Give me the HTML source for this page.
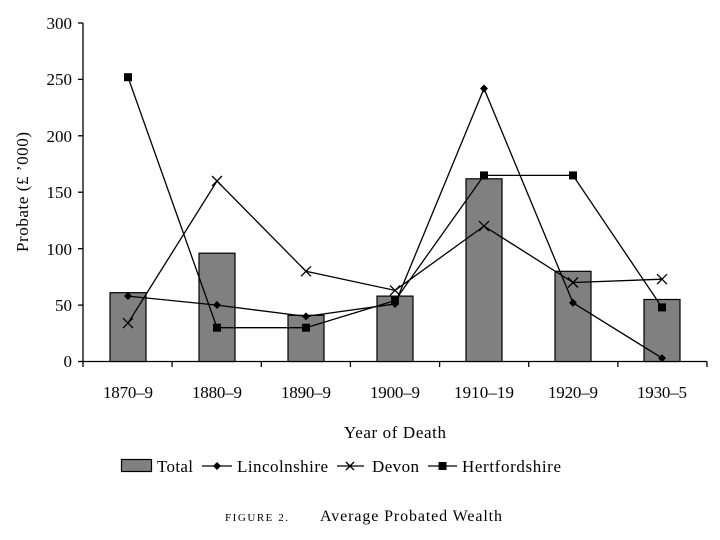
<!DOCTYPE html>
<html><head><meta charset="utf-8"><style>
html,body{margin:0;padding:0;background:#fff;}
svg{display:block;font-family:"Liberation Serif",serif;}
</style></head><body>
<svg width="720" height="540" viewBox="0 0 720 540" xmlns="http://www.w3.org/2000/svg">
<g stroke="#000" stroke-width="1.3" fill="none">
<line x1="83" y1="23" x2="83" y2="361.5"/>
<line x1="83" y1="361.5" x2="707" y2="361.5"/>
<line x1="78" y1="23" x2="83" y2="23"/>
<line x1="78" y1="79.4" x2="83" y2="79.4"/>
<line x1="78" y1="135.8" x2="83" y2="135.8"/>
<line x1="78" y1="192.2" x2="83" y2="192.2"/>
<line x1="78" y1="248.7" x2="83" y2="248.7"/>
<line x1="78" y1="305.1" x2="83" y2="305.1"/>
<line x1="78" y1="361.5" x2="83" y2="361.5"/>
<line x1="83" y1="361.5" x2="83" y2="367"/>
<line x1="172.1" y1="361.5" x2="172.1" y2="367"/>
<line x1="261.3" y1="361.5" x2="261.3" y2="367"/>
<line x1="350.4" y1="361.5" x2="350.4" y2="367"/>
<line x1="439.6" y1="361.5" x2="439.6" y2="367"/>
<line x1="528.7" y1="361.5" x2="528.7" y2="367"/>
<line x1="617.9" y1="361.5" x2="617.9" y2="367"/>
<line x1="707" y1="361.5" x2="707" y2="367"/>
</g>
<g font-size="17" text-anchor="end">
<text x="72" y="29">300</text><text x="72" y="85">250</text><text x="72" y="142">200</text>
<text x="72" y="198">150</text><text x="72" y="255">100</text><text x="72" y="311">50</text><text x="72" y="367">0</text>
</g>
<g font-size="17" text-anchor="middle">
<text x="128" y="398" textLength="50">1870–9</text><text x="217" y="398" textLength="50">1880–9</text><text x="306" y="398" textLength="50">1890–9</text>
<text x="395" y="398" textLength="50">1900–9</text><text x="484" y="398" textLength="60">1910–19</text><text x="573" y="398" textLength="50">1920–9</text><text x="662" y="398" textLength="50">1930–5</text>
<text x="395" y="438" font-size="17" textLength="102">Year of Death</text>
</g>
<text transform="translate(28,192) rotate(-90)" font-size="17" text-anchor="middle" textLength="120">Probate (£ ’000)</text>
<g fill="#808080" stroke="#000" stroke-width="1.2">
<rect x="110" y="292.7" width="36" height="68.8"/>
<rect x="199" y="253.2" width="36" height="108.3"/>
<rect x="288" y="315.3" width="36" height="46.2"/>
<rect x="377" y="296.1" width="36" height="65.4"/>
<rect x="466" y="178.8" width="36" height="182.7"/>
<rect x="555" y="271.3" width="36" height="90.2"/>
<rect x="644" y="299.5" width="36" height="62"/>
</g>
<g fill="none" stroke="#000" stroke-width="1.3">
<polyline points="128,296.1 217,305.1 306,316.4 395,304 484,88.5 573,302.8 662,358.1"/>
<polyline points="128,323.1 217,181 306,271.3 395,290.4 484,226.1 573,282.5 662,279.2"/>
<polyline points="128,77.2 217,327.7 306,327.7 395,300.6 484,175.4 573,175.4 662,307.4"/>
</g>
<g fill="#000">
<path d="M128,292 l4,4 -4,4 -4,-4z M217,301 l4,4 -4,4 -4,-4z M306,312.4 l4,4 -4,4 -4,-4z M395,300 l4,4 -4,4 -4,-4z M484,84.5 l4,4 -4,4 -4,-4z M573,298.8 l4,4 -4,4 -4,-4z M662,354.1 l4,4 -4,4 -4,-4z"/>
<rect x="124" y="73.2" width="8" height="8"/><rect x="213" y="323.7" width="8" height="8"/>
<rect x="302" y="323.7" width="8" height="8"/><rect x="391" y="296.6" width="8" height="8"/>
<rect x="480" y="171.4" width="8" height="8"/><rect x="569" y="171.4" width="8" height="8"/>
<rect x="658" y="303.4" width="8" height="8"/>
</g>
<g stroke="#000" stroke-width="1.3">
<path d="M123,318.1 l10,10 M133,318.1 l-10,10 M212,176 l10,10 M222,176 l-10,10 M301,266.3 l10,10 M311,266.3 l-10,10 M390,285.4 l10,10 M400,285.4 l-10,10 M479,221.1 l10,10 M489,221.1 l-10,10 M568,277.5 l10,10 M578,277.5 l-10,10 M657,274.2 l10,10 M667,274.2 l-10,10"/>
</g>
<!-- legend -->
<rect x="121.5" y="459.5" width="30" height="12" fill="#808080" stroke="#000" stroke-width="1.2"/>
<text x="157" y="472" font-size="17" textLength="36">Total</text>
<line x1="202" y1="466" x2="232" y2="466" stroke="#000" stroke-width="1.3"/>
<path d="M217,462 l4,4 -4,4 -4,-4z" fill="#000"/>
<text x="237" y="472" font-size="17" textLength="91">Lincolnshire</text>
<line x1="337" y1="466" x2="364" y2="466" stroke="#000" stroke-width="1.3"/>
<path d="M346,462 l8,8 M354,462 l-8,8" stroke="#000" stroke-width="1.3"/>
<text x="372" y="472" font-size="17" textLength="47">Devon</text>
<line x1="428" y1="466" x2="457" y2="466" stroke="#000" stroke-width="1.3"/>
<rect x="438.5" y="462" width="8" height="8" fill="#000"/>
<text x="462" y="472" font-size="17" textLength="99">Hertfordshire</text>
<text x="225" y="521" font-size="11" textLength="63">FIGURE 2.</text>
<text x="320" y="521" font-size="16" textLength="182">Average Probated Wealth</text>
</svg>
</body></html>
